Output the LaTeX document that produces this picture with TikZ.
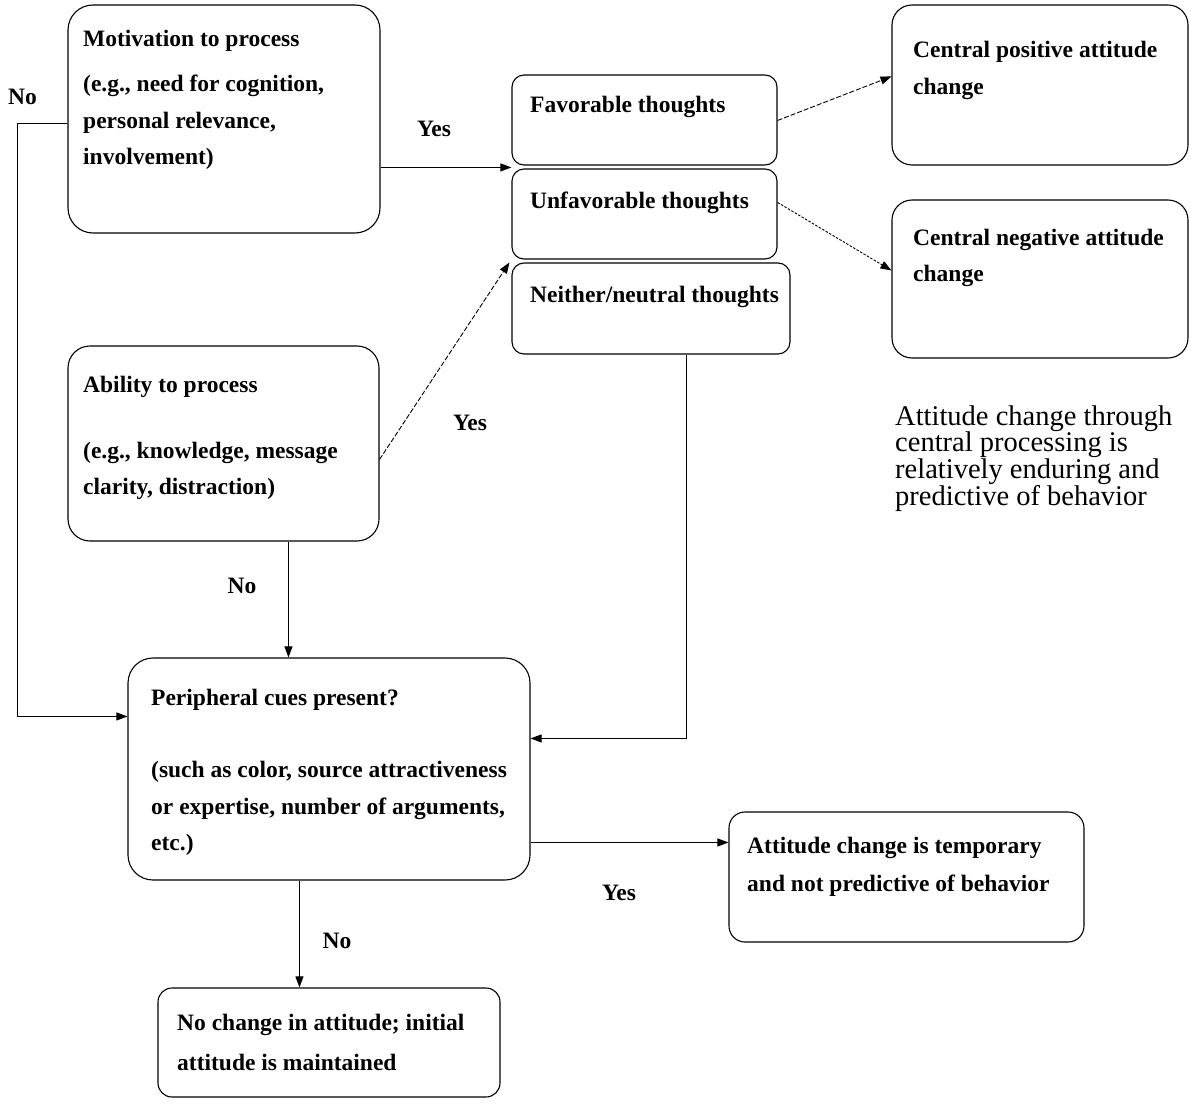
\documentclass[tikz,border=0pt]{standalone}
\usepackage{fontspec}
\setmainfont{Liberation Serif}
\usetikzlibrary{arrows.meta}
\newcommand\boxtxt[1]{\parbox[t]{420pt}{\raggedright\fontsize{23.5}{36.5}\selectfont\bfseries #1}}
\begin{document}
\begin{tikzpicture}[x=1pt,y=-1pt,
  box/.style={draw, line width=1.1pt, inner sep=0pt},
  txt/.style={anchor=base west, inner sep=0pt},
  lab/.style={anchor=base, inner sep=0pt, font=\fontsize{23.5}{28}\selectfont\bfseries},
  arr/.style={line width=1pt, -{Triangle[length=11pt,width=8pt]}},
  dsh/.style={line width=0.9pt, dash pattern=on 5pt off 2pt, -{Triangle[length=11pt,width=8pt]}},
  dot/.style={line width=0.9pt, dash pattern=on 2.5pt off 1.5pt, -{Triangle[length=11pt,width=8pt]}},
]
\useasboundingbox (0,0) rectangle (1191,1110);

% boxes
\node[box, rounded corners=25pt, minimum width=312pt, minimum height=228pt] (mot) at (224,119) {};
\node[box, rounded corners=12pt, minimum width=265pt, minimum height=90pt] (fav) at (644.5,120) {};
\node[box, rounded corners=12pt, minimum width=265pt, minimum height=90pt] (unf) at (644.5,214) {};
\node[box, rounded corners=12pt, minimum width=278pt, minimum height=91pt] (nei) at (651,308.5) {};
\node[box, rounded corners=20pt, minimum width=296pt, minimum height=160pt] (cp) at (1040,85) {};
\node[box, rounded corners=20pt, minimum width=296pt, minimum height=158pt] (cn) at (1040,279) {};
\node[box, rounded corners=22pt, minimum width=311pt, minimum height=195pt] (abi) at (223.5,443.5) {};
\node[box, rounded corners=25pt, minimum width=402pt, minimum height=222pt] (per) at (329,769) {};
\node[box, rounded corners=16pt, minimum width=355pt, minimum height=130pt] (tmp) at (906.5,877) {};
\node[box, rounded corners=14pt, minimum width=342pt, minimum height=109pt] (noc) at (329,1042.5) {};

% box texts
\node[txt] (mot-t) at (83,47) {\boxtxt{Motivation to process\\[8.5pt](e.g., need for cognition,\\personal relevance,\\involvement)}};
\node[txt] (fav-t) at (530,113) {\boxtxt{Favorable thoughts}};
\node[txt] (unf-t) at (530,208) {\boxtxt{Unfavorable thoughts}};
\node[txt] (nei-t) at (530,302) {\boxtxt{Neither/neutral thoughts}};
\node[txt] (cp-t) at (913,58) {\boxtxt{Central positive attitude\\change}};
\node[txt] (cn-t) at (913,245) {\boxtxt{Central negative attitude\\change}};
\node[txt] (abi-t) at (83,392) {\boxtxt{Ability to process\\[29.5pt](e.g., knowledge, message\\clarity, distraction)}};
\node[txt] (per-t) at (151,705) {\boxtxt{Peripheral cues present?\\[36pt](such as color, source attractiveness\\or expertise, number of arguments,\\etc.)}};
\node[txt] (tmp-t) at (747,853) {\boxtxt{Attitude change is temporary\\[2pt]and not predictive of behavior}};
\node[txt] (noc-t) at (177,1030) {\boxtxt{No change in attitude; initial\\[4pt]attitude is maintained}};

% annotation
\node[txt] (note) at (895,425) {\parbox[t]{300pt}{\raggedright\fontsize{28.5}{26.7}\selectfont Attitude change through\\central processing is\\relatively enduring and\\predictive of behavior}};

% labels
\node[lab] (no1) at (22.5,105) {No};
\node[lab] (yes1) at (434,137) {Yes};
\node[lab] (yes2) at (470,430) {Yes};
\node[lab] (no2) at (242,593) {No};
\node[lab] (yes3) at (619,900) {Yes};
\node[lab] (no3) at (337,948) {No};

% connectors
\draw[arr] ([yshift=-119pt]mot.north west) -- ++(-50,0) |- ([yshift=-59pt]per.north west);
\draw[arr] ([yshift=-163pt]mot.north east) -- ([yshift=-93pt]fav.north west);
\draw[dsh] ([yshift=-114pt]abi.north east) -- ([xshift=-2pt]nei.north west);
\draw[arr] ([xshift=221pt]abi.south west) -- ([xshift=161pt]per.north west);
\draw[arr] ([xshift=175pt]nei.south west) |- ([yshift=-81pt]per.north east);
\draw[arr] ([yshift=-185pt]per.north east) -- ([yshift=-31pt]tmp.north west);
\draw[arr] ([xshift=172pt]per.south west) -- ([xshift=142pt]noc.north west);
\draw[dsh] ([yshift=-46pt]fav.north east) -- ([yshift=-72pt]cp.north west);
\draw[dot] ([yshift=-34pt]unf.north east) -- ([yshift=-71pt]cn.north west);
\end{tikzpicture}
\end{document}
